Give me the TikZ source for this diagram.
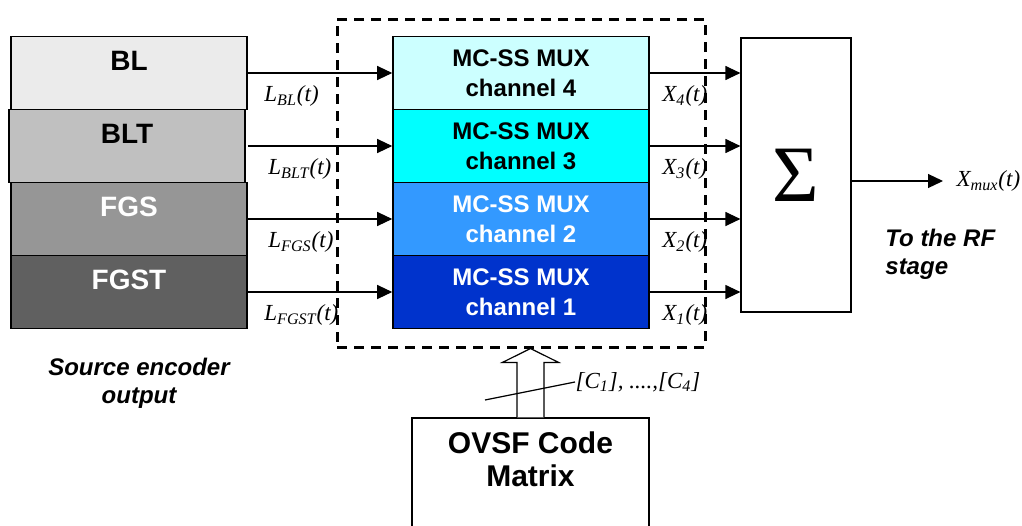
\documentclass[tikz,border=0pt]{standalone}
\usepackage{fontspec}
\setmainfont{Liberation Serif}
\setsansfont{Liberation Sans}
\usetikzlibrary{arrows.meta,positioning,calc}

\definecolor{blGrey}{RGB}{235,235,235}
\definecolor{bltGrey}{RGB}{192,192,192}
\definecolor{fgsGrey}{RGB}{150,150,150}
\definecolor{fgstGrey}{RGB}{96,96,96}
\definecolor{chanFour}{RGB}{204,255,255}
\definecolor{chanThree}{RGB}{0,255,255}
\definecolor{chanTwo}{RGB}{51,153,255}
\definecolor{chanOne}{RGB}{0,51,204}

\begin{document}
\begin{tikzpicture}[x=0.5pt, y=-0.5pt,
    layer/.style={draw, line width=0.8pt, minimum width=118pt,
      minimum height=36.5pt, inner sep=0pt},
    lyrtxt/.style={font=\sffamily\bfseries\fontsize{14}{16}\selectfont},
    mux/.style={draw, line width=0.8pt, minimum width=128pt,
      minimum height=36.5pt, inner sep=0pt, align=center,
      font=\sffamily\bfseries\fontsize{12}{15}\selectfont},
    plain/.style={draw, line width=0.6pt, fill=white, inner sep=0pt},
    sig/.style={-{Triangle[length=7.5pt,width=7pt]}, line width=0.6pt},
    sglbl/.style={font=\itshape\fontsize{11.5}{13}\selectfont, inner sep=0pt},
    note/.style={font=\sffamily\bfseries\itshape\fontsize{12}{14}\selectfont,
      inner sep=0pt},
  ]
  \useasboundingbox (0,0) rectangle (1022,525);
  \clip (0,0) rectangle (1022,525);

  % Source encoder layers, top to bottom
  \node[layer, fill=blGrey]   (bl)   at (129,73)  {};
  \node[layer, fill=bltGrey]  (blt)  at (127,146) {};
  \node[layer, fill=fgsGrey]  (fgs)  at (129,219) {};
  \node[layer, fill=fgstGrey] (fgst) at (129,292) {};
  \node[lyrtxt]             (bltxt)   at ([yshift=6pt]bl.center)   {BL};
  \node[lyrtxt]             (blttxt)  at ([yshift=6pt]blt.center)  {BLT};
  \node[lyrtxt, text=white] (fgstxt)  at ([yshift=6pt]fgs.center)  {FGS};
  \node[lyrtxt, text=white] (fgsttxt) at ([yshift=6pt]fgst.center) {FGST};
  \node[note, align=center] (srcnote) at (139,383) {Source encoder\\output};

  % MC-SS multiplexer channels
  \node[mux, fill=chanFour]              (mux4) at (521,73)  {MC-SS MUX\\channel 4};
  \node[mux, fill=chanThree]             (mux3) at (521,146) {MC-SS MUX\\channel 3};
  \node[mux, fill=chanTwo, text=white]   (mux2) at (521,219) {MC-SS MUX\\channel 2};
  \node[mux, fill=chanOne, text=white]   (mux1) at (521,292) {MC-SS MUX\\channel 1};

  % Summation
  \node[plain, minimum width=55pt, minimum height=137pt,
    font=\fontsize{40}{44}\selectfont] (sum) at (796,175) {Σ};
  \coordinate (rfout) at (943,181);
  \node[note, anchor=west, align=left] (rfnote) at (885,254) {To the RF\\stage};

  % Layer streams into the channels
  \draw[sig] (bl.east |- mux4) -- (mux4)
    node[sglbl, pos=0, anchor=north west, xshift=8pt, yshift=-6pt] {L\textsubscript{BL}(t)};
  \draw[sig] (bl.east |- mux3) -- (mux3)
    node[sglbl, pos=0, anchor=north west, xshift=10pt, yshift=-6pt] {L\textsubscript{BLT}(t)};
  \draw[sig] (fgs) -- (mux2)
    node[sglbl, pos=0, anchor=north west, xshift=10pt, yshift=-6pt] {L\textsubscript{FGS}(t)};
  \draw[sig] (fgst) -- (mux1)
    node[sglbl, pos=0, anchor=north west, xshift=8pt, yshift=-6pt] {L\textsubscript{FGST}(t)};

  % Channel outputs into the adder
  \draw[sig] (mux4) -- (mux4 -| sum.west)
    node[sglbl, pos=0, anchor=north west, xshift=6pt, yshift=-6pt] {X\textsubscript{4}(t)};
  \draw[sig] (mux3) -- (mux3 -| sum.west)
    node[sglbl, pos=0, anchor=north west, xshift=6pt, yshift=-6pt] {X\textsubscript{3}(t)};
  \draw[sig] (mux2) -- (mux2 -| sum.west)
    node[sglbl, pos=0, anchor=north west, xshift=6pt, yshift=-6pt] {X\textsubscript{2}(t)};
  \draw[sig] (mux1) -- (mux1 -| sum.west)
    node[sglbl, pos=0, anchor=north west, xshift=6pt, yshift=-6pt] {X\textsubscript{1}(t)};
  \draw[sig] (sum.east |- rfout) -- (rfout)
    node[sglbl, anchor=west, xshift=6.5pt] {X\textsubscript{mux}(t)};

  % Dashed frame round the multiplexer
  \node[draw, line width=1.5pt, dash pattern=on 5pt off 3.5pt,
    minimum width=184pt, minimum height=164pt, inner sep=0pt] (frame) at (521,183) {};

  % OVSF code generator and its hollow arrow
  \node[plain, minimum width=118.5pt, minimum height=70pt] (ovsf) at (530.5,488) {};
  \node[lyrtxt, align=center, font=\sffamily\bfseries\fontsize{15}{16.5}\selectfont]
    (ovsftxt) at (530.5,459.5) {OVSF Code\\Matrix};
  \draw[line width=0.6pt, fill=white]
    ($(ovsf.north)+(-13.5,0)$) -- ++(0,-55) -- ++(-14.5,0)
    -- (ovsf.north |- frame.south) -- ($(ovsf.north)+(28,-55)$)
    -- ++(-14.5,0) -- ++(0,55);
  \coordinate (codeslash) at (485,400);
  \draw[line width=0.6pt] (codeslash) -- ++(90,-18)
    node[sglbl, anchor=west] (codes) {[C\textsubscript{1}], ....,[C\textsubscript{4}]};
\end{tikzpicture}
\end{document}
